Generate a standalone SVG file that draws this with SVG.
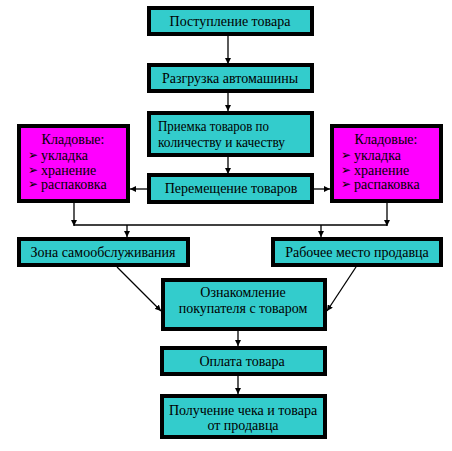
<svg xmlns="http://www.w3.org/2000/svg" width="452" height="451" viewBox="0 0 452 451">
<style>
.box{fill:#33CCCC;stroke:#000;stroke-width:4}
.mag{fill:#FF00FF;stroke:#000;stroke-width:4}
text{font-family:"Liberation Serif","Times New Roman",serif;font-size:14px;fill:#000}
.c{text-anchor:middle}
.bul{font-family:"DejaVu Sans",sans-serif;font-size:12px;font-weight:bold}
.ln{stroke:#000;stroke-width:1.3;fill:none}
</style>
<defs>
<marker id="ah" markerWidth="6" markerHeight="6" refX="6" refY="3" orient="auto" markerUnits="userSpaceOnUse">
<path d="M0,0 L6,3 L0,6 z" fill="#000"/>
</marker>
</defs>
<rect width="452" height="451" fill="#fff"/>
<g id="connectors">
<line class="ln" x1="228" y1="36" x2="228" y2="64" marker-end="url(#ah)"/>
<line class="ln" x1="228" y1="93" x2="228" y2="111" marker-end="url(#ah)"/>
<line class="ln" x1="228" y1="157" x2="228" y2="174" marker-end="url(#ah)"/>
<line class="ln" x1="147" y1="189" x2="130" y2="189" marker-end="url(#ah)"/>
<line class="ln" x1="314" y1="189" x2="330" y2="189" marker-end="url(#ah)"/>
<line class="ln" x1="74" y1="203" x2="74" y2="226" marker-end="url(#ah)"/>
<line class="ln" x1="387" y1="203" x2="387" y2="226" marker-end="url(#ah)"/>
<line class="ln" x1="74" y1="225" x2="387" y2="225"/>
<line class="ln" x1="127" y1="225" x2="127" y2="237" marker-end="url(#ah)"/>
<line class="ln" x1="321" y1="225" x2="321" y2="237" marker-end="url(#ah)"/>
<line class="ln" x1="117" y1="267" x2="161" y2="311" marker-end="url(#ah)"/>
<line class="ln" x1="356" y1="267" x2="327" y2="311" marker-end="url(#ah)"/>
<line class="ln" x1="238" y1="331" x2="238" y2="346" marker-end="url(#ah)"/>
<line class="ln" x1="238" y1="376" x2="238" y2="394" marker-end="url(#ah)"/>
</g>
<g id="n1"><rect class="box" x="149" y="8" width="163" height="26"/><text class="c" x="230" y="26">Поступление товара</text></g>
<g id="n2"><rect class="box" x="149" y="65" width="163" height="26"/><text class="c" x="230" y="83">Разгрузка автомашины</text></g>
<g id="n3"><rect class="box" x="149" y="113" width="163" height="42"/>
<text x="158" y="131" textLength="111" lengthAdjust="spacingAndGlyphs">Приемка товаров по</text>
<text x="158" y="147" textLength="127" lengthAdjust="spacingAndGlyphs">количеству и качеству</text></g>
<g id="n4"><rect class="box" x="149" y="175" width="163" height="27"/><text class="c" x="231" y="193">Перемещение товаров</text></g>
<g id="n5"><rect class="mag" x="19" y="126" width="109" height="75"/>
<text class="c" x="73" y="144">Кладовые:</text>
<text class="bul" x="28" y="159">➢</text><text x="41" y="160">укладка</text>
<text class="bul" x="28" y="174">➢</text><text x="41" y="175">хранение</text>
<text class="bul" x="28" y="188">➢</text><text x="41" y="189">распаковка</text></g>
<g id="n6"><rect class="mag" x="332" y="126" width="109" height="75"/>
<text class="c" x="386" y="144">Кладовые:</text>
<text class="bul" x="341" y="159">➢</text><text x="354" y="160">укладка</text>
<text class="bul" x="341" y="174">➢</text><text x="354" y="175">хранение</text>
<text class="bul" x="341" y="188">➢</text><text x="354" y="189">распаковка</text></g>
<g id="n7"><rect class="box" x="19" y="239" width="169" height="26"/><text class="c" x="103" y="257">Зона самообслуживания</text></g>
<g id="n8"><rect class="box" x="273" y="239" width="168" height="26"/><text class="c" x="357" y="257">Рабочее место продавца</text></g>
<g id="n9"><rect class="box" x="163" y="280" width="162" height="49"/>
<text class="c" x="243" y="297">Ознакомление</text>
<text class="c" x="243" y="313">покупателя с товаром</text></g>
<g id="n10"><rect class="box" x="162" y="348" width="163" height="26"/><text class="c" x="242" y="366">Оплата товара</text></g>
<g id="n11"><rect class="box" x="162" y="396" width="163" height="41"/>
<text class="c" x="243" y="415">Получение чека и товара</text>
<text class="c" x="243" y="430">от продавца</text></g>
</svg>
